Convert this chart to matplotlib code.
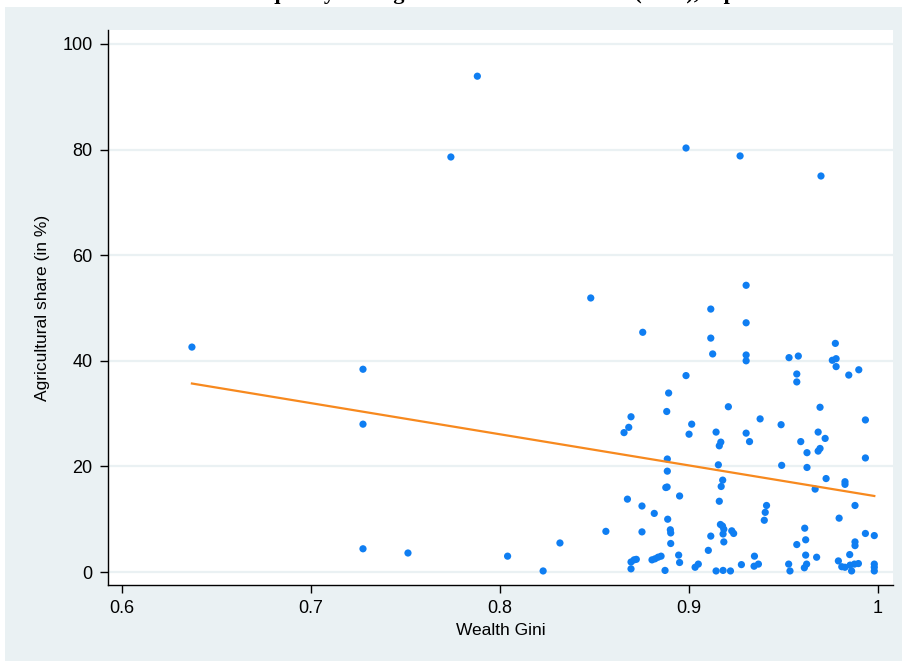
import numpy as np
import matplotlib
matplotlib.use('Agg')
import matplotlib.pyplot as plt
from matplotlib.patches import Rectangle

# Wealth Gini vs. agricultural share (%), one point per country
gini = [0.637, 0.7275, 0.7275, 0.7275, 0.7513, 0.774, 0.788, 0.804, 0.8228, 0.8317,
        0.848, 0.856, 0.8984, 0.927, 0.9698,
        0.9115, 0.9302, 0.9302, 0.8755, 0.9115, 0.9125, 0.9302, 0.9302, 0.8984, 0.9774,
        0.9529, 0.9578, 0.9758, 0.9778, 0.9778, 0.957, 0.957, 0.9898, 0.9845,
        0.8892, 0.8693, 0.8681, 0.8656, 0.8882, 0.9014, 0.9000, 0.9208, 0.9143, 0.9168,
        0.9160, 0.9302, 0.9320, 0.8885, 0.8885, 0.9155, 0.9178, 0.9693, 0.9376, 0.9933,
        0.9487, 0.9683, 0.9720, 0.9591, 0.9624, 0.9693, 0.9683, 0.9933, 0.9490, 0.9624,
        0.9725, 0.9825, 0.9825, 0.9667, 0.9878, 0.9794, 0.9410, 0.9403, 0.9398, 0.9612,
        0.9617, 0.9570, 0.9933, 0.9980, 0.9878, 0.9878, 0.9850, 0.9790, 0.9346, 0.9367,
        0.9344, 0.9527, 0.9534, 0.9617, 0.9622, 0.9610, 0.9675, 0.9808, 0.9825, 0.9852,
        0.9875, 0.9896, 0.9860, 0.9980, 0.9980, 0.9980,
        0.9170, 0.8884, 0.8877, 0.8950, 0.8674, 0.8751, 0.9160, 0.8816, 0.8887, 0.8751,
        0.8901, 0.8903, 0.8903, 0.9166, 0.9177, 0.9184, 0.9180, 0.9226, 0.9236, 0.9115,
        0.9184, 0.9102, 0.8693, 0.8709, 0.8721, 0.8693, 0.8804, 0.8820, 0.8836, 0.8852,
        0.8873, 0.8945, 0.8950, 0.9032, 0.9049, 0.9143, 0.9180, 0.9219, 0.9277]
agri_share = [42.6, 38.4, 28.0, 4.4, 3.6, 78.6, 93.9, 3.0, 0.2, 5.5,
              51.9, 7.7, 80.3, 78.8, 75.0,
              49.8, 54.3, 47.2, 45.4, 44.3, 41.3, 41.1, 40.0, 37.2, 43.3,
              40.6, 40.9, 40.1, 40.4, 38.9, 37.5, 36.0, 38.3, 37.3,
              33.9, 29.4, 27.4, 26.4, 30.4, 28.0, 26.1, 31.3, 26.5, 24.6,
              23.9, 26.3, 24.7, 21.4, 19.1, 20.3, 17.4, 31.2, 29.0, 28.8,
              27.9, 26.5, 25.3, 24.7, 22.6, 23.4, 22.9, 21.6, 20.2, 19.8,
              17.7, 17.1, 16.6, 15.7, 12.6, 10.2, 12.6, 11.3, 9.8, 8.3,
              6.1, 5.2, 7.3, 6.9, 5.7, 5.0, 3.3, 2.1, 3.0, 1.5,
              1.1, 1.5, 0.2, 3.2, 1.5, 0.8, 2.8, 1.0, 0.9, 1.3,
              1.5, 1.6, 0.2, 1.5, 0.9, 0.2,
              16.2, 16.1, 16.0, 14.4, 13.8, 12.5, 13.4, 11.1, 10.0, 7.6,
              8.0, 7.4, 5.4, 9.0, 8.7, 8.1, 7.2, 7.8, 7.3, 6.8,
              5.7, 4.1, 1.9, 2.3, 2.4, 0.6, 2.3, 2.5, 2.8, 3.0,
              0.3, 3.2, 1.8, 0.9, 1.5, 0.2, 0.3, 0.2, 1.4]

# fitted values of the linear fit at the ends of the Gini range
fit_gini = [0.637, 0.998]
fit_share = [35.7, 14.4]

x_ticks = [0.6, 0.7, 0.8, 0.9, 1.0]
x_tick_labels = ['0.6', '0.7', '0.8', '0.9', '1']
y_ticks = [0, 20, 40, 60, 80, 100]

bg = '#EAF1F3'
plt.rcParams['font.family'] = ['Liberation Sans', 'DejaVu Sans']

fig = plt.figure(figsize=(9.03, 6.61), dpi=100, facecolor='white')
# light graph region behind the white plot region
fig.patches.append(Rectangle((5 / 903, 0), 1, 1 - 7 / 661, transform=fig.transFigure,
                             facecolor=bg, edgecolor='none', zorder=-10))
ax = fig.add_axes([108 / 903, 1 - 585 / 661, (893 - 108) / 903, (585 - 30) / 661])
ax.set_facecolor('white')
ax.set_zorder(1)

ax.scatter(gini, agri_share, s=27, color='#0F7EF2', edgecolors='none', zorder=3)
ax.plot(fit_gini, fit_share, color='#F7891E', lw=1.6, zorder=4)

ax.set_xlim(0.5926, 1.0079)
ax.set_ylim(-2.46, 102.65)
ax.set_xticks(x_ticks)
ax.set_xticklabels(x_tick_labels)
ax.set_yticks(y_ticks)
ax.yaxis.grid(True, color=bg, lw=1.6, zorder=0)
ax.set_axisbelow(True)
for side in ['top', 'right']:
    ax.spines[side].set_visible(False)
for side in ['left', 'bottom']:
    ax.spines[side].set_color('black')
    ax.spines[side].set_linewidth(1.0)
ax.tick_params(direction='out', length=6, width=1, labelsize=13, colors='black', pad=5)

ax.set_xlabel('Wealth Gini', fontsize=12.5, labelpad=4)
ax.set_ylabel('Agricultural share (in %)', fontsize=12.5, labelpad=9)

# title sits mostly above the top edge, only its descenders show
fig.text(0.5, 1 + 1 / 661, 'Wealth inequality and agricultural share of GDP (2015), top',
         ha='center', va='baseline', fontsize=16, fontweight='bold',
         family=['Liberation Serif', 'DejaVu Serif'])

fig.savefig('out.png', dpi=100, facecolor='white')
